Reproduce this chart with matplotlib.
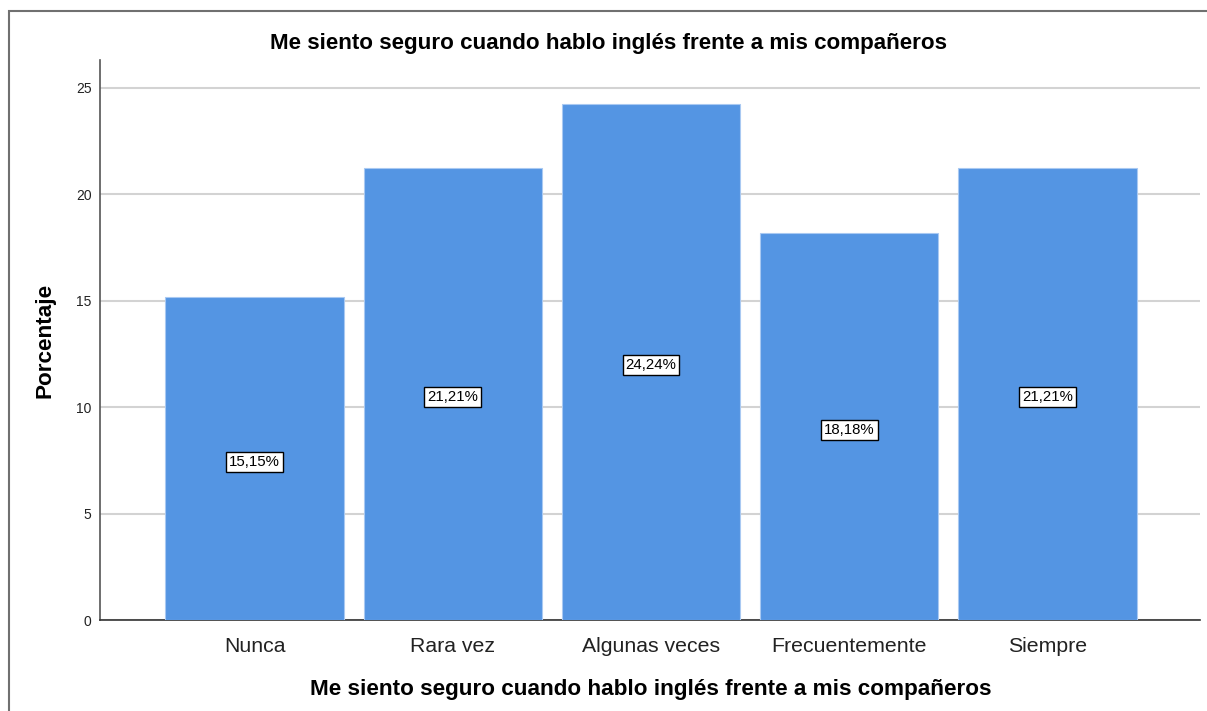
import matplotlib
matplotlib.use("Agg")
from matplotlib import pyplot as plt
from matplotlib.patches import Rectangle

categories = ["Nunca", "Rara vez", "Algunas veces", "Frecuentemente", "Siempre"]
percentages = [15.15, 21.21, 24.24, 18.18, 21.21]
yticks = [0, 5, 10, 15, 20, 25]
title_text = "Me siento seguro cuando hablo inglés frente a mis compañeros"

plt.rcParams["font.family"] = ["Liberation Sans", "DejaVu Sans"]

W, H = 1207, 711
figure = plt.figure(figsize=(W/100, H/100), dpi=100)
axes = figure.add_axes([100/W, 1 - 620/H, 1100/W, 560/H])

# Frame around the chart (cut off at right/bottom like the source)
figure.patches.append(Rectangle((9/W, -0.1), 1.2, 1 - 11/H + 0.1,
                                transform=figure.transFigure, fill=False,
                                edgecolor="#707070", linewidth=1.5))

positions = list(range(len(categories)))
bars = axes.bar(positions, percentages, width=0.9, color="#5495e3",
                edgecolor="#a9c9f2", linewidth=0.8, zorder=3)

for pos, val in zip(positions, percentages):
  label = ("%.2f" % val).replace(".", ",") + "%"
  axes.text(pos, val/2 - 0.15, label, ha="center", va="center", fontsize=10.8,
            color="black", zorder=4,
            bbox=dict(boxstyle="square,pad=0.2", facecolor="white",
                      edgecolor="black", linewidth=1.0))

axes.set_xlim(-0.78, 4.77)
axes.set_ylim(0, 26.3)
axes.set_yticks(yticks)
axes.set_xticks(positions)
axes.set_xticklabels(categories, fontsize=15.3, color="#222222")
axes.tick_params(axis="y", labelsize=10, length=0, pad=6, colors="#222222")
axes.tick_params(axis="x", length=0, pad=12)
axes.grid(axis="y", color="#d3d3d3", linewidth=1.5, zorder=0)
axes.set_axisbelow(True)

for side in ["top", "right"]:
  axes.spines[side].set_visible(False)
axes.spines["left"].set_color("#555555")
axes.spines["bottom"].set_color("#333333")
axes.spines["left"].set_linewidth(1.2)
axes.spines["bottom"].set_linewidth(1.2)

figure.text(609/W, 1 - 43/H, title_text, ha="center", va="center",
            fontsize=16.1, fontweight="bold")
figure.text(651/W, 1 - 689/H, title_text, ha="center", va="center",
            fontsize=16.2, fontweight="bold")
figure.text(45/W, 1 - 340/H, "Porcentaje", ha="center", va="center",
            rotation=90, fontsize=16.2, fontweight="bold")

figure.savefig("out.png", dpi=100)
